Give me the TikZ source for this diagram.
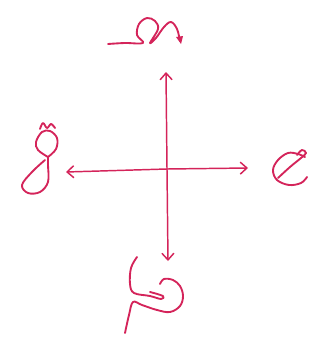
\documentclass[tikz,border=0pt]{standalone}
\usepackage{xcolor}
\usepackage{tikz}
\usetikzlibrary{arrows.meta}
\definecolor{ink}{RGB}{212,36,90}

\begin{document}
\begin{tikzpicture}[
  x=0.75pt, y=-0.75pt,
  axis/.style={draw=ink, line width=1.1pt, {Straight Barb[length=5pt,width=9pt]}-{Straight Barb[length=5pt,width=9pt]}},
  pen/.style={draw=ink, line width=1.4pt, line cap=round, line join=round},
]
  \useasboundingbox (0,0) rectangle (325,339);
  % ends of the cross
  \coordinate (c) at (167,169);
  \coordinate (n) at (166,72);
  \coordinate (s) at (168,261);
  \coordinate (w) at (66,172);
  \coordinate (e) at (248,168);
  \draw[axis] (w) -- (c) -- (e);
  \draw[axis] (n) -- (c) -- (s);
  % north sign
  \draw[pen] plot[smooth, tension=0.6] coordinates {(108,44) (125,43) (143,43) (137,35) (139,24) (147,18) (155,21) (158,29) (150,43) (156,38) (164,27) (171,22) (177,29) (180,41)};
  \fill[ink] (176,37) -- (183,36) -- (181,44) -- cycle;
  % east sign
  \draw[pen] plot[smooth, tension=0.6] coordinates {(305,157) (298,154) (288,153) (278,160) (273,170) (277,180) (289,185) (301,183) (307,177)};
  \draw[pen] plot[smooth, tension=0.6] coordinates {(278,178) (290,167) (301,158) (306,153) (302,150) (297,155)};
  % west sign
  \draw[pen] plot[smooth, tension=0.6] coordinates {(48,157) (38,150) (36,142) (42,132) (50,131) (57,138) (56,149) (48,157)};
  \draw[pen] plot[smooth, tension=0.6] coordinates {(40,129) (43,123) (47,128) (51,124) (55,128)};
  \draw[pen] plot[smooth, tension=0.6] coordinates {(45,160) (32,172) (22,185) (28,193) (40,192) (48,182) (48,165) (48,157)};
  % south sign
  \draw[pen] plot[smooth, tension=0.6] coordinates {(137,257) (131,268) (130,284) (134,293) (150,296) (161,299) (163,296) (150,292)};
  \draw[pen] plot[smooth, tension=0.6] coordinates {(160,284) (164,279) (173,280) (180,286) (183,296) (180,306) (170,312) (157,310) (142,305) (133,302) (129,315) (125,333)};
\end{tikzpicture}
\end{document}
